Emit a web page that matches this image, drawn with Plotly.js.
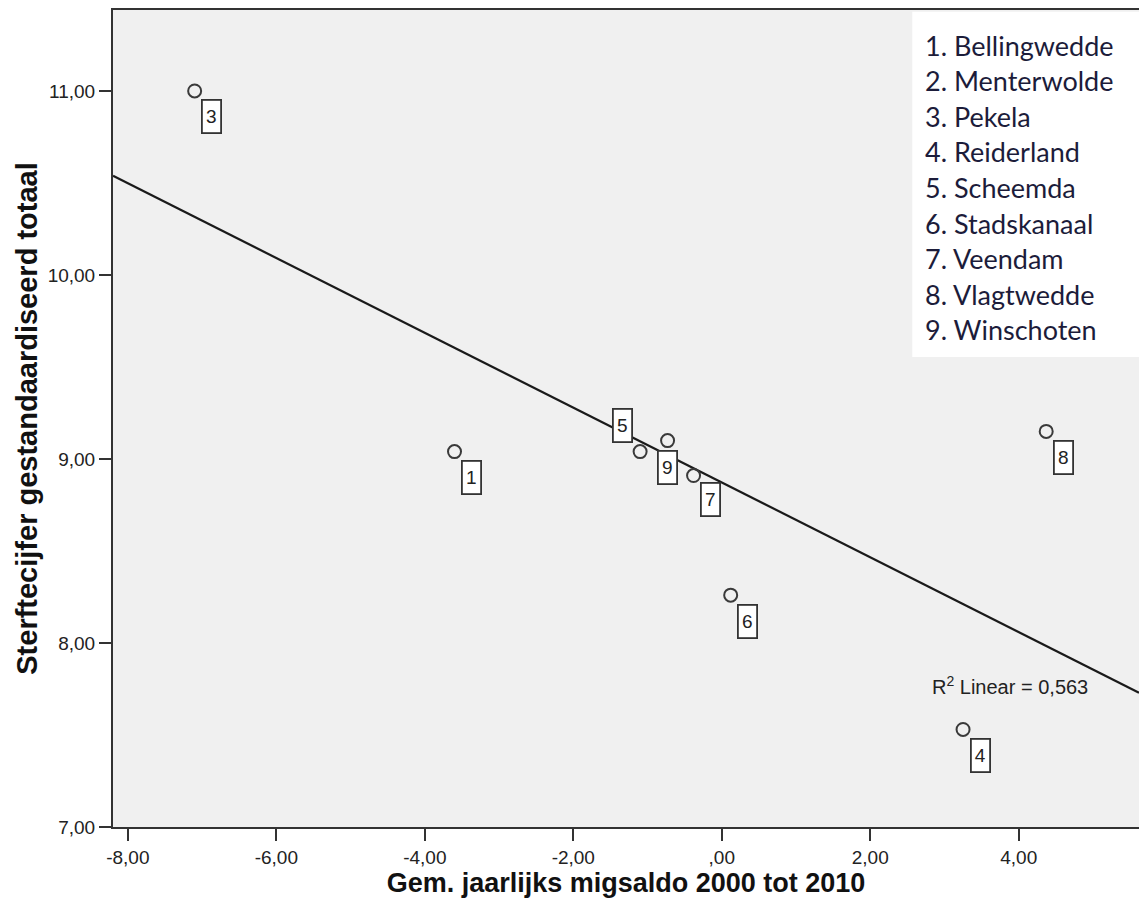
<!DOCTYPE html>
<html>
<head>
<meta charset="utf-8">
<script src="https://cdn.plot.ly/plotly-3.0.1.min.js"></script>
<style>html,body{margin:0;padding:0;background:#fff;}#chart{width:1139px;height:917px;}</style>
</head>
<body>
<div id="chart"></div>
<script>
// Data
const municipalities = ["Bellingwedde","Menterwolde","Pekela","Reiderland","Scheemda","Stadskanaal","Veendam","Vlagtwedde","Winschoten"];
const pointIds = [3, 1, 5, 9, 7, 6, 4, 8];
const migsaldo = [-7.10, -3.60, -1.10, -0.73, -0.38, 0.12, 3.25, 4.37];
const sterftecijfer = [11.00, 9.04, 9.04, 9.10, 8.91, 8.26, 7.53, 9.15];
const xTickVals = [-8, -6, -4, -2, 0, 2, 4];
const xTickText = ["-8,00", "-6,00", "-4,00", "-2,00", ",00", "2,00", "4,00"];
const yTickVals = [7, 8, 9, 10, 11];
const yTickText = ["7,00", "8,00", "9,00", "10,00", "11,00"];
const r2Text = "R<sup>2</sup> Linear = 0,563";

const xRange = [-8.2, 5.62];
const yRange = [7, 11.44];

// least-squares fit
const n = migsaldo.length;
const mx = migsaldo.reduce((a, b) => a + b, 0) / n;
const my = sterftecijfer.reduce((a, b) => a + b, 0) / n;
let sxy = 0, sxx = 0;
for (let i = 0; i < n; i++) { sxy += (migsaldo[i] - mx) * (sterftecijfer[i] - my); sxx += (migsaldo[i] - mx) ** 2; }
const slope = sxy / sxx, intercept = my - slope * mx;

const fitTrace = {
  x: xRange, y: xRange.map(v => intercept + slope * v),
  mode: 'lines', line: {color: '#1a1a1a', width: 2.2}, hoverinfo: 'skip', showlegend: false
};
const ptTrace = {
  x: migsaldo, y: sterftecijfer, mode: 'markers',
  marker: {symbol: 'circle-open', size: 13, color: '#3a3a3a', line: {width: 2, color: '#3a3a3a'}},
  showlegend: false
};

// label offsets (pixels) relative to each point
const labelShift = {5: [-18, 26], 9: [0, -27], 7: [17, -24]};
const annotations = [];
pointIds.forEach((id, i) => {
  const s = labelShift[id] || [17, -26];
  annotations.push({
    x: migsaldo[i], y: sterftecijfer[i], xref: 'x', yref: 'y',
    text: String(id), showarrow: false,
    xshift: s[0], yshift: s[1],
    font: {family: 'Arial, Liberation Sans, sans-serif', size: 19, color: '#222'},
    bgcolor: '#ffffff', bordercolor: '#333333', borderwidth: 1.8, borderpad: 0,
    width: 17, height: 31
  });
});
annotations.push({
  x: 3.88, y: 7.77, xref: 'x', yref: 'y', text: r2Text, showarrow: false,
  font: {family: 'Arial, Liberation Sans, sans-serif', size: 20, color: '#222'}
});
municipalities.forEach((m, i) => {
  annotations.push({
    x: 0.789, y: 1 - (35 + i * 35.6) / 817, xref: 'paper', yref: 'paper',
    xanchor: 'left', yanchor: 'middle', showarrow: false,
    text: (i + 1) + '. ' + m,
    font: {family: 'Lato, Open Sans, sans-serif', size: 27, color: '#1c1c3a'}
  });
});

const layout = {
  width: 1139, height: 917,
  margin: {l: 113, r: 0, t: 10, b: 90},
  paper_bgcolor: '#ffffff', plot_bgcolor: '#f0f0f0',
  xaxis: {
    range: xRange, tickvals: xTickVals, ticktext: xTickText,
    showgrid: false, zeroline: false, showline: true, linecolor: '#333', linewidth: 2, mirror: true,
    ticks: 'outside', ticklen: 12, tickwidth: 2, tickcolor: '#333',
    tickfont: {family: 'Arial, Liberation Sans, sans-serif', size: 19, color: '#222'},
    title: {text: 'Gem. jaarlijks migsaldo 2000 tot 2010', standoff: 5,
      font: {family: 'Arial, Liberation Sans, sans-serif', size: 27, color: '#111', weight: 'bold'}}
  },
  yaxis: {
    range: yRange, tickvals: yTickVals, ticktext: yTickText,
    showgrid: false, zeroline: false, showline: true, linecolor: '#333', linewidth: 2,
    ticks: 'outside', ticklen: 12, tickwidth: 2, tickcolor: '#333',
    tickfont: {family: 'Arial, Liberation Sans, sans-serif', size: 19, color: '#222'},
    title: {text: 'Sterftecijfer gestandaardiseerd totaal', standoff: 2,
      font: {family: 'Arial, Liberation Sans, sans-serif', size: 29, color: '#111', weight: 'bold'}}
  },
  shapes: [{type: 'rect', xref: 'paper', yref: 'paper', x0: 0.779, x1: 1.0, y0: 1 - 347 / 817, y1: 0.998,
    fillcolor: '#ffffff', line: {width: 0}, layer: 'above'}],
  annotations: annotations
};

Plotly.newPlot('chart', [fitTrace, ptTrace], layout, {displayModeBar: false, staticPlot: true});
</script>
</body>
</html>
